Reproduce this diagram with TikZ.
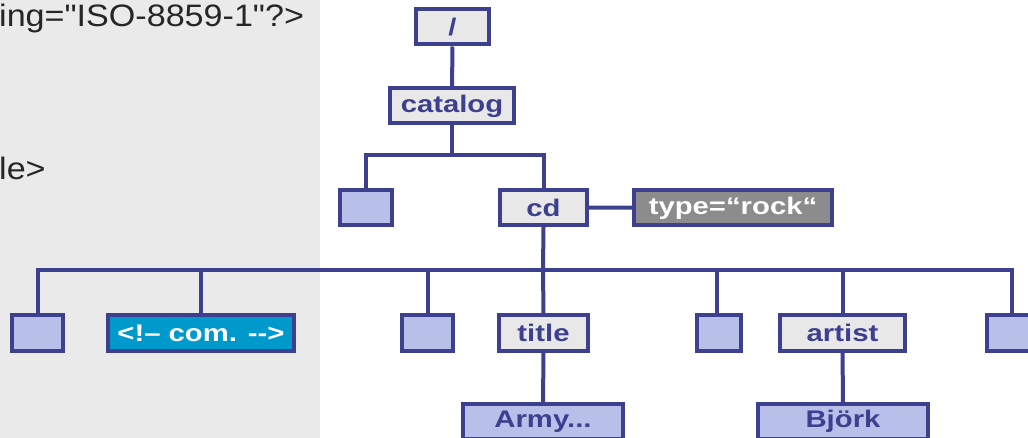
\documentclass[tikz,border=0pt]{standalone}
\usepackage{fontspec}
\newfontfamily\labfont[FakeStretch=1.22]{Liberation Sans}
\newfontfamily\codefont[FakeStretch=1.1]{Liberation Sans}
\definecolor{navy}{HTML}{3D3F8F}
\definecolor{boxgray}{HTML}{E8E8E8}
\definecolor{lav}{HTML}{B8C0EA}
\definecolor{attrgray}{HTML}{8C8C8C}
\definecolor{combl}{HTML}{0099CC}
\definecolor{bggray}{HTML}{EAEAEA}
\begin{document}
\begin{tikzpicture}[x=1pt,y=-1pt,
  base/.style={draw=navy,line width=4pt,inner sep=0pt,minimum height=35pt,
    font=\labfont\fontsize{24}{24}\bfseries\selectfont},
  elem/.style={base,fill=boxgray,text=navy},
  empty/.style={base,fill=lav,minimum width=#1},
  empty/.default=51pt,
  txtbox/.style={base,fill=lav,text=navy},
  attr/.style={base,fill=attrgray,text=white},
  comm/.style={base,fill=combl,text=white},
  conn/.style={draw=navy,line width=4pt}]
\useasboundingbox (0,0) rectangle (1028,438);
\fill[bggray] (0,0) rectangle (320,438);
\node[anchor=base west,text=black!85,font=\codefont\fontsize{31}{31}\selectfont,inner sep=0pt] (code1) at (-1,27) {ing="ISO-8859-1"?>};
\node[anchor=base west,text=black!85,font=\codefont\fontsize{31}{31}\selectfont,inner sep=0pt] (code2) at (-1,180) {le>};
% nodes
\node[elem,minimum width=73pt] (root) at (452.5,27) {/};
\node[elem,minimum width=124pt] (catalog) at (452,106) {catalog};
\node[empty=52pt] (e0) at (366,207.5) {};
\node[elem,minimum width=87pt] (cd) at (543.5,207.5) {cd};
\node[attr,minimum width=198pt] (type) at (733,208) {type=“rock“};
\node[empty] (c1) at (37.5,333) {};
\node[comm,minimum width=186pt] (c2) at (201,333) {<!– com. -{}->};
\node[empty] (c3) at (427.5,333) {};
\node[elem,minimum width=89pt] (c4) at (543.5,333) {title};
\node[empty=44pt] (c5) at (719,333) {};
\node[elem,minimum width=125pt] (c6) at (842.5,333) {artist};
\node[empty=50pt] (c7) at (1012,333) {};
\node[txtbox,minimum width=160pt] (army) at (543,421.5) {Army...};
\node[txtbox,minimum width=170pt] (bjork) at (843,421.5) {Björk};
% connectors
\coordinate (b1) at (452,155);
\coordinate (b2) at (543,270);
\draw[conn] (root) -- (catalog);
\draw[conn] (catalog.south) -- (b1);
\draw[conn] (e0.north) |- (b1);
\draw[conn] (cd.north) |- (b1);
\draw[conn] (cd) -- (type);
\draw[conn] (cd.south) -- (b2);
\draw[conn] ([xshift=0.5pt]c1.north) |- (b2);
\draw[conn] (c2.north) |- (b2);
\draw[conn] (c3.north) |- (b2);
\draw[conn] (c4.north) -- (b2);
\draw[conn] ([xshift=-2pt]c5.north) |- (b2);
\draw[conn] (c6.north) |- (b2);
\draw[conn] (c7.north) |- (b2);
\draw[conn] (c4) -- (army);
\draw[conn] (c6) -- (bjork);
\end{tikzpicture}
\end{document}
